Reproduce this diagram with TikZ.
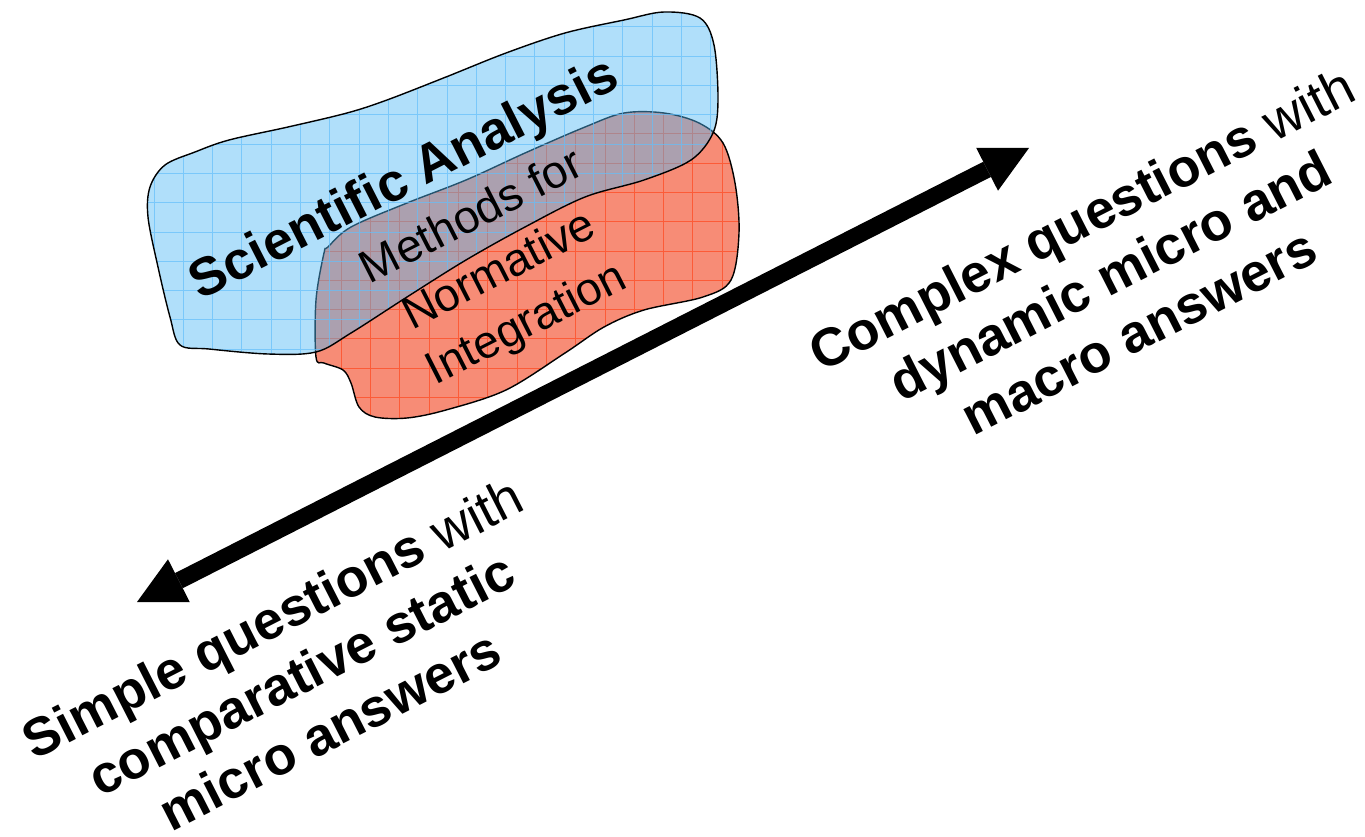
\documentclass[tikz,border=0pt]{standalone}
\usepackage{fontspec}
\setmainfont{Liberation Sans}
\usetikzlibrary{arrows.meta}
\definecolor{blobblue}{RGB}{80,185,245}
\definecolor{bluegrid}{RGB}{100,190,250}
\definecolor{blobred}{RGB}{247,140,118}
\definecolor{redgrid}{RGB}{255,75,35}
\tikzset{
  bigarrow/.style={line width=17pt,
    {Triangle[length=47pt,width=48pt,line width=0pt]}-{Triangle[length=47pt,width=48pt,line width=0pt]}},
  bigtext/.style={font=\fontsize{53.5}{63}\selectfont\bfseries, align=center, rotate=27, inner sep=0pt},
  sciencetext/.style={font=\fontsize{53.5}{63}\selectfont\bfseries, rotate=27, inner sep=0pt},
  blobtext/.style={font=\fontsize{46}{60}\selectfont, align=center, rotate=27, inner sep=0pt},
  bloboutline/.style={draw=black, line width=1.4pt},
  blobgrid/.style={line width=0.9pt, step=29.3pt},
}
\begin{document}
\begin{tikzpicture}[x=1pt,y=-1pt]
\useasboundingbox (0,0) rectangle (1365,837);
\def\redblob{plot[smooth cycle, tension=0.55] coordinates {(324,253) (316,300) (316,357) (324,363) (343,370) (351,383) (359,407) (375,417) (407,418) (446,410) (506,390) (565,353) (604,327) (644,310) (703,297) (731,280) (739,233) (735,183) (723,143) (699,123) (664,113) (624,113) (585,127) (525,153) (466,180) (407,203) (351,227) (328,247)}}
\def\blueblob{plot[smooth cycle, tension=0.55] coordinates {(664,12) (700,18) (714,45) (718,100) (713,133) (691,160) (644,180) (585,197) (525,227) (466,260) (407,297) (351,333) (316,352) (268,354) (209,349) (180,345) (170,317) (158,267) (148,217) (150,187) (165,165) (195,152) (229,140) (288,127) (347,113) (387,100) (446,77) (506,53) (565,33) (624,20)}}
% red blob
\begin{scope}
  \clip \redblob;
  \fill[blobred] (300,100) rectangle (760,430);
  \begin{scope}[xshift=19pt, yshift=-16.6pt]
    \draw[redgrid, opacity=0.75, blobgrid] (250,60) grid (760,460);
  \end{scope}
\end{scope}
\path[bloboutline] \redblob;
% blue blob
\begin{scope}
  \clip \blueblob;
  \fill[blobblue, opacity=0.45] (140,0) rectangle (730,370);
  \begin{scope}[xshift=7.5pt, yshift=2.4pt]
    \draw[bluegrid, opacity=0.7, blobgrid] (100,-40) grid (760,400);
  \end{scope}
\end{scope}
\path[bloboutline] \blueblob;
% texts in blobs
\node[sciencetext] (sci) at (405,181) {Scientific Analysis};
\node[blobtext] (norm) at (500,272) {Methods for\\Normative\\Integration};
% arrow
\coordinate (L) at (137,602);
\coordinate (R) at (1029,148);
\draw[bigarrow] (L) -- (R);
% end labels
\node[bigtext] (simple) at (301,674) {Simple questions {\mdseries with}\\comparative static\\micro answers};
\node[bigtext] (complex) at (1110,275) {Complex questions {\mdseries with}\\dynamic micro and\\macro answers};
\end{tikzpicture}
\end{document}
